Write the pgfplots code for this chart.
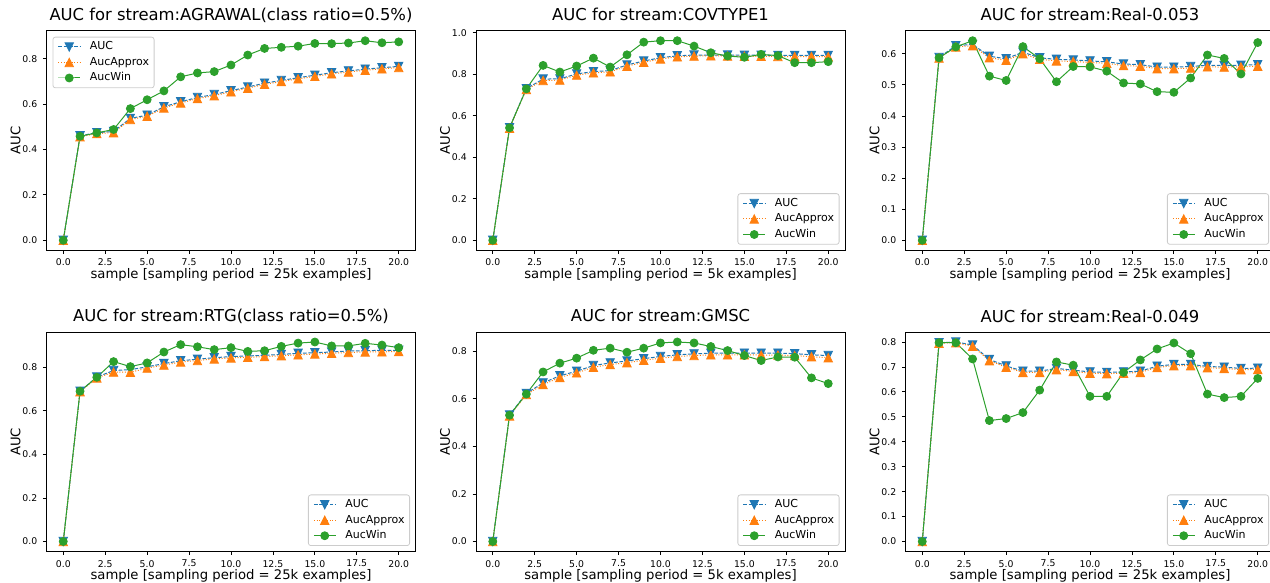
\documentclass[border=0pt]{standalone}
\usepackage{fontspec}
\setmainfont{DejaVu Sans}
\usepackage{pgfplots}
\usepackage{pgfplotstable}
\pgfplotsset{compat=1.18}

\definecolor{tabblue}{HTML}{1F77B4}
\definecolor{taborange}{HTML}{FF7F0E}
\definecolor{tabgreen}{HTML}{2CA02C}

% isosceles triangles as wide as they are tall
\pgfdeclareplotmark{mpltriup}{%
  \pgfpathmoveto{\pgfqpoint{0pt}{\pgfplotmarksize}}%
  \pgfpathlineto{\pgfqpoint{-\pgfplotmarksize}{-\pgfplotmarksize}}%
  \pgfpathlineto{\pgfqpoint{\pgfplotmarksize}{-\pgfplotmarksize}}%
  \pgfpathclose\pgfusepathqfillstroke}
\pgfdeclareplotmark{mpltridown}{%
  \pgfpathmoveto{\pgfqpoint{0pt}{-\pgfplotmarksize}}%
  \pgfpathlineto{\pgfqpoint{-\pgfplotmarksize}{\pgfplotmarksize}}%
  \pgfpathlineto{\pgfqpoint{\pgfplotmarksize}{\pgfplotmarksize}}%
  \pgfpathclose\pgfusepathqfillstroke}

\newcommand\titlefont{\fontsize{16.4}{19}\selectfont}
\newcommand\labfont{\fontsize{13.2}{15}\selectfont}
\newcommand\tickfont{\fontsize{9.3}{11}\selectfont}
\newcommand\legfont{\fontsize{11}{13}\selectfont}

% AGRAWAL
\pgfplotstableread{
x auc approx win
0 0.000 0.000 0.000
1 0.460 0.456 0.458
2 0.474 0.470 0.473
3 0.479 0.474 0.488
4 0.537 0.532 0.580
5 0.551 0.546 0.619
6 0.588 0.583 0.658
7 0.610 0.605 0.720
8 0.629 0.624 0.737
9 0.642 0.637 0.743
10 0.659 0.654 0.772
11 0.675 0.670 0.816
12 0.692 0.687 0.845
13 0.704 0.699 0.850
14 0.716 0.711 0.855
15 0.727 0.722 0.867
16 0.738 0.733 0.866
17 0.746 0.741 0.869
18 0.754 0.749 0.879
19 0.760 0.755 0.870
20 0.766 0.761 0.874
}\agrawal

% COVTYPE1
\pgfplotstableread{
x auc approx win
0 0.000 0.000 0.000
1 0.543 0.540 0.542
2 0.731 0.727 0.730
3 0.777 0.770 0.843
4 0.778 0.772 0.811
5 0.802 0.796 0.840
6 0.813 0.807 0.878
7 0.818 0.812 0.835
8 0.845 0.839 0.894
9 0.864 0.858 0.955
10 0.880 0.874 0.962
11 0.889 0.884 0.962
12 0.893 0.888 0.936
13 0.893 0.889 0.904
14 0.893 0.888 0.888
15 0.892 0.887 0.882
16 0.892 0.887 0.896
17 0.891 0.886 0.890
18 0.891 0.885 0.856
19 0.891 0.885 0.856
20 0.891 0.885 0.861
}\covtype

% Real-0.053
\pgfplotstableread{
x auc approx win
0 0.000 0.000 0.000
1 0.588 0.586 0.587
2 0.626 0.622 0.622
3 0.630 0.626 0.642
4 0.592 0.587 0.528
5 0.584 0.579 0.514
6 0.605 0.600 0.623
7 0.587 0.582 0.584
8 0.582 0.577 0.510
9 0.580 0.575 0.559
10 0.577 0.572 0.558
11 0.574 0.569 0.544
12 0.567 0.562 0.506
13 0.565 0.560 0.503
14 0.557 0.552 0.478
15 0.557 0.552 0.476
16 0.559 0.554 0.522
17 0.563 0.558 0.596
18 0.562 0.557 0.585
19 0.563 0.558 0.535
20 0.565 0.560 0.636
}\realA

% RTG
\pgfplotstableread{
x auc approx win
0 0.000 0.000 0.000
1 0.690 0.688 0.690
2 0.755 0.751 0.754
3 0.785 0.778 0.826
4 0.789 0.777 0.803
5 0.802 0.796 0.820
6 0.817 0.810 0.870
7 0.830 0.824 0.904
8 0.837 0.831 0.894
9 0.844 0.838 0.881
10 0.849 0.843 0.890
11 0.852 0.846 0.873
12 0.855 0.849 0.876
13 0.859 0.853 0.896
14 0.864 0.857 0.911
15 0.867 0.861 0.916
16 0.870 0.864 0.898
17 0.875 0.868 0.898
18 0.876 0.870 0.910
19 0.878 0.871 0.902
20 0.878 0.872 0.890
}\rtg

% GMSC
\pgfplotstableread{
x auc approx win
0 0.000 0.000 0.000
1 0.532 0.528 0.531
2 0.623 0.618 0.620
3 0.667 0.660 0.713
4 0.697 0.690 0.750
5 0.716 0.709 0.771
6 0.740 0.733 0.804
7 0.751 0.744 0.813
8 0.759 0.752 0.796
9 0.769 0.762 0.813
10 0.778 0.771 0.835
11 0.785 0.778 0.839
12 0.789 0.782 0.835
13 0.792 0.785 0.820
14 0.792 0.785 0.803
15 0.792 0.785 0.782
16 0.792 0.784 0.761
17 0.792 0.784 0.776
18 0.790 0.782 0.775
19 0.785 0.777 0.688
20 0.782 0.773 0.664
}\gmsc

% Real-0.049
\pgfplotstableread{
x auc approx win
0 0.000 0.000 0.000
1 0.797 0.795 0.797
2 0.800 0.797 0.797
3 0.788 0.783 0.732
4 0.730 0.725 0.485
5 0.704 0.699 0.493
6 0.683 0.678 0.517
7 0.683 0.678 0.607
8 0.694 0.689 0.720
9 0.687 0.682 0.707
10 0.680 0.675 0.582
11 0.678 0.673 0.582
12 0.680 0.675 0.678
13 0.683 0.678 0.728
14 0.703 0.698 0.772
15 0.710 0.705 0.796
16 0.710 0.705 0.753
17 0.702 0.697 0.591
18 0.699 0.694 0.577
19 0.694 0.689 0.582
20 0.695 0.690 0.654
}\realB

\pgfplotsset{
  panel/.style={
    scale only axis, width=369pt, height=219.5pt,
    xmin=-1, xmax=21,
    axis line style={black, line width=0.8pt},
    every tick/.style={black, line width=0.8pt},
    tick align=outside, major tick length=3.5pt,
    xtick pos=left, ytick pos=left,
    xtick={0,2.5,...,20},
    scaled ticks=false,
    xticklabel style={font=\tickfont, inner sep=0pt, anchor=north, yshift=-5pt,
      /pgf/number format/.cd, fixed, fixed zerofill, precision=1, assume math mode=true},
    yticklabel style={font=\tickfont, inner sep=0pt, anchor=east, xshift=-5.6pt,
      /pgf/number format/.cd, fixed, fixed zerofill, precision=1, assume math mode=true},
    title style={font=\titlefont, at={(0.5,1)}, anchor=base, yshift=4pt, inner sep=0pt},
    xlabel style={font=\labfont, at={(axis description cs:0.5,0)}, anchor=base, yshift=-28pt, inner sep=0pt},
    ylabel style={font=\labfont, at={(axis description cs:-0.07,0.5)}, anchor=south, inner sep=0pt},
    ylabel={AUC},
    legend style={font=\legfont, draw=black!20, line width=0.8pt, rounded corners=2.5pt,
      fill=white, fill opacity=0.8, draw opacity=1, text opacity=1,
      inner xsep=5pt, inner ysep=4.5pt, row sep=4.8pt, column sep=9.3pt,
      nodes={inner sep=0pt, text height=8.2pt, text depth=2.5pt, anchor=west},
      cells={anchor=west}},
    legend image code/.code={%
      \draw[mark repeat=2, mark phase=2, #1, sharp corners, fill opacity=1]
        plot coordinates {(0pt,0pt) (10.85pt,0pt) (21.7pt,0pt)};},
    legend cell align=left,
  },
  legul/.style={legend style={at={(0,1)}, anchor=north west, xshift=6pt, yshift=-6pt}},
  leglr/.style={legend style={at={(1,0)}, anchor=south east, xshift=-5.5pt, yshift=5.5pt}},
  aucline/.style={color=tabblue, line width=1pt, dash pattern=on 3.7pt off 1.6pt,
    mark=mpltridown, mark size=4.2pt, mark options={solid, fill=tabblue, line width=0.8pt}},
  approxline/.style={color=taborange, line width=1pt, dash pattern=on 1pt off 1.65pt,
    mark=mpltriup, mark size=4.2pt, mark options={solid, fill=taborange, line width=0.8pt}},
  winline/.style={color=tabgreen, line width=1pt, solid,
    mark=*, mark size=4pt, mark options={solid, fill=tabgreen, line width=0.8pt}},
}

\newcommand\threeseries[1]{%
  \addplot[aucline] table[x=x, y=auc] {#1};
  \addlegendentry{AUC}
  \addplot[approxline] table[x=x, y=approx] {#1};
  \addlegendentry{AucApprox}
  \addplot[winline] table[x=x, y=win] {#1};
  \addlegendentry{AucWin}
}

\begin{document}
\begin{tikzpicture}
\useasboundingbox (0pt,0pt) rectangle (1270pt,583pt);

% top row
\begin{axis}[panel, legul, at={(46.5pt,332.75pt)}, anchor=south west,
  ymin=-0.044, ymax=0.923, ytick={0,0.2,...,0.8},
  title={AUC for stream:AGRAWAL(class ratio=0.5\%)},
  xlabel={sample [sampling period = 25k examples]}]
\threeseries{\agrawal}
\end{axis}

\begin{axis}[panel, leglr, at={(476pt,332.75pt)}, anchor=south west,
  ymin=-0.048, ymax=1.010, ytick={0,0.2,...,1.0},
  title={AUC for stream:COVTYPE1},
  xlabel={sample [sampling period = 5k examples]}]
\threeseries{\covtype}
\end{axis}

\begin{axis}[panel, leglr, at={(905.5pt,332.75pt)}, anchor=south west,
  ymin=-0.032, ymax=0.674, ytick={0,0.1,...,0.6},
  title={AUC for stream:Real-0.053},
  xlabel={sample [sampling period = 25k examples]}]
\threeseries{\realA}
\end{axis}

% bottom row
\begin{axis}[panel, leglr, at={(46.5pt,31.5pt)}, anchor=south west,
  ymin=-0.046, ymax=0.962, ytick={0,0.2,...,0.8},
  title={AUC for stream:RTG(class ratio=0.5\%)},
  xlabel={sample [sampling period = 25k examples]}]
\threeseries{\rtg}
\end{axis}

\begin{axis}[panel, leglr, at={(476pt,31.5pt)}, anchor=south west,
  ymin=-0.042, ymax=0.881, ytick={0,0.2,...,0.8},
  title={AUC for stream:GMSC},
  xlabel={sample [sampling period = 5k examples]}]
\threeseries{\gmsc}
\end{axis}

\begin{axis}[panel, leglr, at={(905.5pt,31.5pt)}, anchor=south west,
  ymin=-0.040, ymax=0.840, ytick={0,0.1,...,0.8},
  title={AUC for stream:Real-0.049},
  xlabel={sample [sampling period = 25k examples]}]
\threeseries{\realB}
\end{axis}
\end{tikzpicture}
\end{document}
